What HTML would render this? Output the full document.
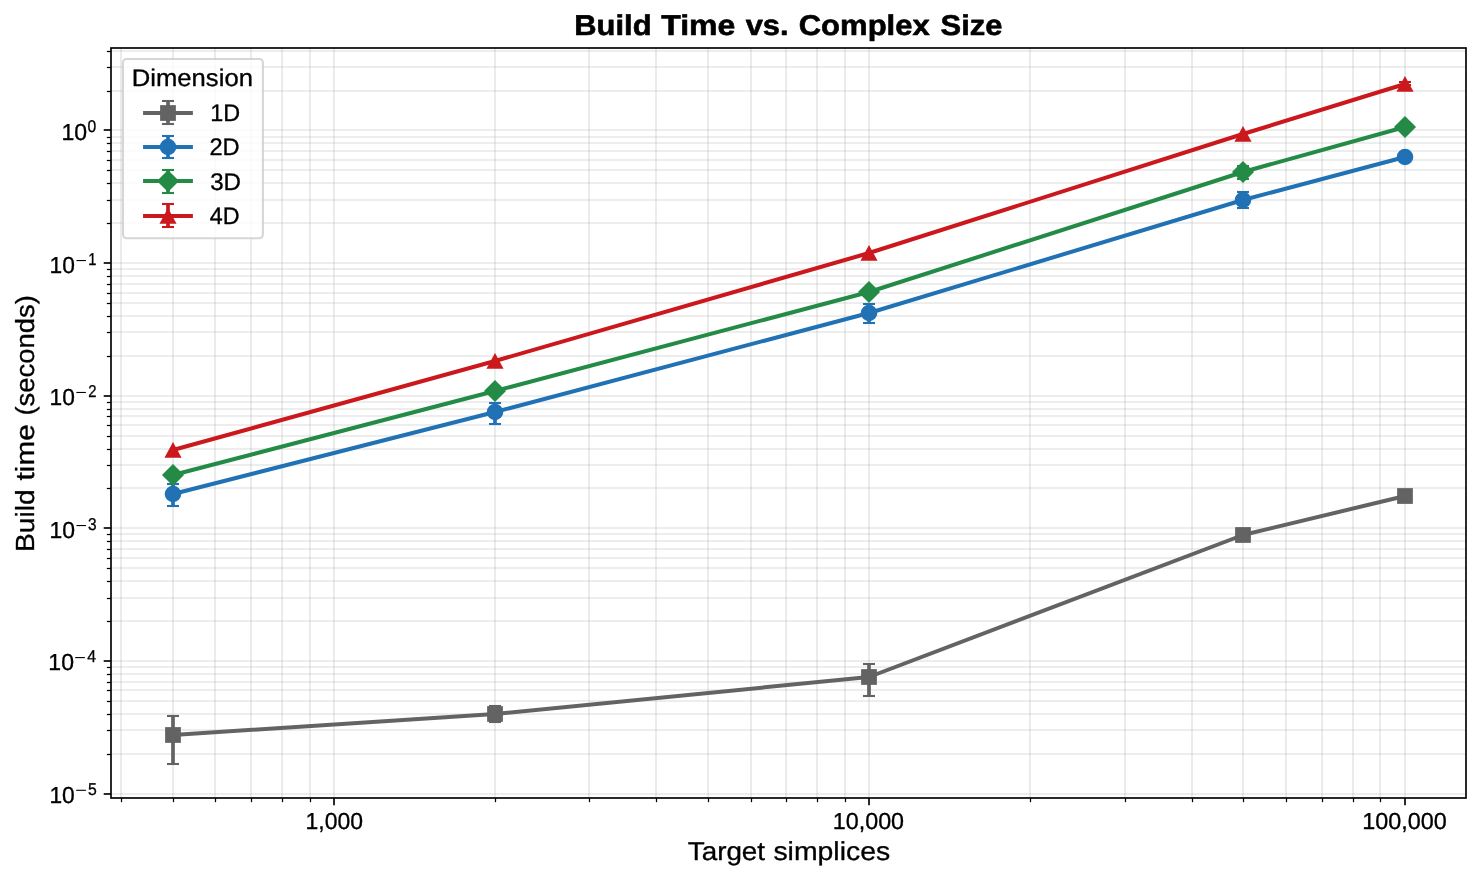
<!DOCTYPE html><html><head><meta charset="utf-8"><style>html,body{margin:0;padding:0;background:#fff;}svg{display:block;will-change:transform;}text{font-family:"Liberation Sans",sans-serif;text-rendering:geometricPrecision;}</style></head><body>
<svg width="1481" height="880" viewBox="0 0 1481 880">
<rect x="0" y="0" width="1481" height="880" fill="#fff"/>
<defs><clipPath id="ax"><rect x="111.0" y="48.0" width="1355.0" height="750.0"/></clipPath></defs>
<g clip-path="url(#ax)" stroke="#b0b0b0" stroke-opacity="0.3" stroke-width="1.67" fill="none">
<line x1="121" y1="48.0" x2="121" y2="798.0"/>
<line x1="173" y1="48.0" x2="173" y2="798.0"/>
<line x1="215" y1="48.0" x2="215" y2="798.0"/>
<line x1="251" y1="48.0" x2="251" y2="798.0"/>
<line x1="282" y1="48.0" x2="282" y2="798.0"/>
<line x1="310" y1="48.0" x2="310" y2="798.0"/>
<line x1="334" y1="48.0" x2="334" y2="798.0"/>
<line x1="495" y1="48.0" x2="495" y2="798.0"/>
<line x1="589" y1="48.0" x2="589" y2="798.0"/>
<line x1="656" y1="48.0" x2="656" y2="798.0"/>
<line x1="708" y1="48.0" x2="708" y2="798.0"/>
<line x1="751" y1="48.0" x2="751" y2="798.0"/>
<line x1="786" y1="48.0" x2="786" y2="798.0"/>
<line x1="817" y1="48.0" x2="817" y2="798.0"/>
<line x1="845" y1="48.0" x2="845" y2="798.0"/>
<line x1="869" y1="48.0" x2="869" y2="798.0"/>
<line x1="1030" y1="48.0" x2="1030" y2="798.0"/>
<line x1="1125" y1="48.0" x2="1125" y2="798.0"/>
<line x1="1192" y1="48.0" x2="1192" y2="798.0"/>
<line x1="1243" y1="48.0" x2="1243" y2="798.0"/>
<line x1="1286" y1="48.0" x2="1286" y2="798.0"/>
<line x1="1322" y1="48.0" x2="1322" y2="798.0"/>
<line x1="1353" y1="48.0" x2="1353" y2="798.0"/>
<line x1="1380" y1="48.0" x2="1380" y2="798.0"/>
<line x1="1405" y1="48.0" x2="1405" y2="798.0"/>
<line x1="111.0" y1="794" x2="1466.0" y2="794"/>
<line x1="111.0" y1="754" x2="1466.0" y2="754"/>
<line x1="111.0" y1="730" x2="1466.0" y2="730"/>
<line x1="111.0" y1="714" x2="1466.0" y2="714"/>
<line x1="111.0" y1="701" x2="1466.0" y2="701"/>
<line x1="111.0" y1="690" x2="1466.0" y2="690"/>
<line x1="111.0" y1="682" x2="1466.0" y2="682"/>
<line x1="111.0" y1="674" x2="1466.0" y2="674"/>
<line x1="111.0" y1="667" x2="1466.0" y2="667"/>
<line x1="111.0" y1="661" x2="1466.0" y2="661"/>
<line x1="111.0" y1="621" x2="1466.0" y2="621"/>
<line x1="111.0" y1="598" x2="1466.0" y2="598"/>
<line x1="111.0" y1="581" x2="1466.0" y2="581"/>
<line x1="111.0" y1="568" x2="1466.0" y2="568"/>
<line x1="111.0" y1="558" x2="1466.0" y2="558"/>
<line x1="111.0" y1="549" x2="1466.0" y2="549"/>
<line x1="111.0" y1="541" x2="1466.0" y2="541"/>
<line x1="111.0" y1="534" x2="1466.0" y2="534"/>
<line x1="111.0" y1="528" x2="1466.0" y2="528"/>
<line x1="111.0" y1="488" x2="1466.0" y2="488"/>
<line x1="111.0" y1="465" x2="1466.0" y2="465"/>
<line x1="111.0" y1="449" x2="1466.0" y2="449"/>
<line x1="111.0" y1="436" x2="1466.0" y2="436"/>
<line x1="111.0" y1="425" x2="1466.0" y2="425"/>
<line x1="111.0" y1="416" x2="1466.0" y2="416"/>
<line x1="111.0" y1="409" x2="1466.0" y2="409"/>
<line x1="111.0" y1="402" x2="1466.0" y2="402"/>
<line x1="111.0" y1="396" x2="1466.0" y2="396"/>
<line x1="111.0" y1="356" x2="1466.0" y2="356"/>
<line x1="111.0" y1="332" x2="1466.0" y2="332"/>
<line x1="111.0" y1="316" x2="1466.0" y2="316"/>
<line x1="111.0" y1="303" x2="1466.0" y2="303"/>
<line x1="111.0" y1="293" x2="1466.0" y2="293"/>
<line x1="111.0" y1="284" x2="1466.0" y2="284"/>
<line x1="111.0" y1="276" x2="1466.0" y2="276"/>
<line x1="111.0" y1="269" x2="1466.0" y2="269"/>
<line x1="111.0" y1="263" x2="1466.0" y2="263"/>
<line x1="111.0" y1="223" x2="1466.0" y2="223"/>
<line x1="111.0" y1="200" x2="1466.0" y2="200"/>
<line x1="111.0" y1="183" x2="1466.0" y2="183"/>
<line x1="111.0" y1="170" x2="1466.0" y2="170"/>
<line x1="111.0" y1="160" x2="1466.0" y2="160"/>
<line x1="111.0" y1="151" x2="1466.0" y2="151"/>
<line x1="111.0" y1="143" x2="1466.0" y2="143"/>
<line x1="111.0" y1="137" x2="1466.0" y2="137"/>
<line x1="111.0" y1="130" x2="1466.0" y2="130"/>
<line x1="111.0" y1="91" x2="1466.0" y2="91"/>
<line x1="111.0" y1="67" x2="1466.0" y2="67"/>
<line x1="111.0" y1="51" x2="1466.0" y2="51"/>
</g>
<g clip-path="url(#ax)">
<line x1="173.00" y1="716.00" x2="173.00" y2="764.00" stroke="#636363" stroke-width="3.7"/><line x1="167.00" y1="716.00" x2="179.00" y2="716.00" stroke="#636363" stroke-width="2.08"/><line x1="167.00" y1="764.00" x2="179.00" y2="764.00" stroke="#636363" stroke-width="2.08"/>
<line x1="495.00" y1="706.00" x2="495.00" y2="722.00" stroke="#636363" stroke-width="3.7"/><line x1="489.00" y1="706.00" x2="501.00" y2="706.00" stroke="#636363" stroke-width="2.08"/><line x1="489.00" y1="722.00" x2="501.00" y2="722.00" stroke="#636363" stroke-width="2.08"/>
<line x1="869.00" y1="664.00" x2="869.00" y2="696.00" stroke="#636363" stroke-width="3.7"/><line x1="863.00" y1="664.00" x2="875.00" y2="664.00" stroke="#636363" stroke-width="2.08"/><line x1="863.00" y1="696.00" x2="875.00" y2="696.00" stroke="#636363" stroke-width="2.08"/>
<polyline points="173.00,735.00 495.00,714.00 869.00,677.00 1243.00,535.00 1405.00,496.00" fill="none" stroke="#636363" stroke-width="4.0" stroke-linejoin="round" stroke-linecap="butt"/>
<rect x="166.16" y="728.16" width="13.67" height="13.67" fill="#636363" stroke="#636363" stroke-width="2.08" stroke-linejoin="miter"/>
<rect x="488.17" y="707.16" width="13.67" height="13.67" fill="#636363" stroke="#636363" stroke-width="2.08" stroke-linejoin="miter"/>
<rect x="862.16" y="670.16" width="13.67" height="13.67" fill="#636363" stroke="#636363" stroke-width="2.08" stroke-linejoin="miter"/>
<rect x="1236.16" y="528.16" width="13.67" height="13.67" fill="#636363" stroke="#636363" stroke-width="2.08" stroke-linejoin="miter"/>
<rect x="1398.16" y="489.17" width="13.67" height="13.67" fill="#636363" stroke="#636363" stroke-width="2.08" stroke-linejoin="miter"/>
<line x1="173.00" y1="484.00" x2="173.00" y2="506.00" stroke="#2171b5" stroke-width="3.7"/><line x1="167.00" y1="484.00" x2="179.00" y2="484.00" stroke="#2171b5" stroke-width="2.08"/><line x1="167.00" y1="506.00" x2="179.00" y2="506.00" stroke="#2171b5" stroke-width="2.08"/>
<line x1="495.00" y1="403.00" x2="495.00" y2="424.00" stroke="#2171b5" stroke-width="3.7"/><line x1="489.00" y1="403.00" x2="501.00" y2="403.00" stroke="#2171b5" stroke-width="2.08"/><line x1="489.00" y1="424.00" x2="501.00" y2="424.00" stroke="#2171b5" stroke-width="2.08"/>
<line x1="869.00" y1="304.00" x2="869.00" y2="323.00" stroke="#2171b5" stroke-width="3.7"/><line x1="863.00" y1="304.00" x2="875.00" y2="304.00" stroke="#2171b5" stroke-width="2.08"/><line x1="863.00" y1="323.00" x2="875.00" y2="323.00" stroke="#2171b5" stroke-width="2.08"/>
<line x1="1243.00" y1="192.00" x2="1243.00" y2="208.00" stroke="#2171b5" stroke-width="3.7"/><line x1="1237.00" y1="192.00" x2="1249.00" y2="192.00" stroke="#2171b5" stroke-width="2.08"/><line x1="1237.00" y1="208.00" x2="1249.00" y2="208.00" stroke="#2171b5" stroke-width="2.08"/>
<polyline points="173.00,494.00 495.00,412.00 869.00,313.00 1243.00,200.00 1405.00,157.00" fill="none" stroke="#2171b5" stroke-width="4.0" stroke-linejoin="round" stroke-linecap="butt"/>
<circle cx="173.00" cy="494.00" r="7.25" fill="#2171b5" stroke="#2171b5" stroke-width="2.08"/>
<circle cx="495.00" cy="412.00" r="7.25" fill="#2171b5" stroke="#2171b5" stroke-width="2.08"/>
<circle cx="869.00" cy="313.00" r="7.25" fill="#2171b5" stroke="#2171b5" stroke-width="2.08"/>
<circle cx="1243.00" cy="200.00" r="7.25" fill="#2171b5" stroke="#2171b5" stroke-width="2.08"/>
<circle cx="1405.00" cy="157.00" r="7.25" fill="#2171b5" stroke="#2171b5" stroke-width="2.08"/>
<line x1="1243.00" y1="166.00" x2="1243.00" y2="179.00" stroke="#238b45" stroke-width="3.7"/><line x1="1237.00" y1="166.00" x2="1249.00" y2="166.00" stroke="#238b45" stroke-width="2.08"/><line x1="1237.00" y1="179.00" x2="1249.00" y2="179.00" stroke="#238b45" stroke-width="2.08"/>
<polyline points="173.00,475.00 495.00,391.00 869.00,292.00 1243.00,172.00 1405.00,127.00" fill="none" stroke="#238b45" stroke-width="4.0" stroke-linejoin="round" stroke-linecap="butt"/>
<path d="M173.00,465.43 L182.57,475.00 L173.00,484.57 L163.43,475.00 Z" fill="#238b45" stroke="#238b45" stroke-width="2.08" stroke-linejoin="miter"/>
<path d="M495.00,381.43 L504.57,391.00 L495.00,400.57 L485.43,391.00 Z" fill="#238b45" stroke="#238b45" stroke-width="2.08" stroke-linejoin="miter"/>
<path d="M869.00,282.43 L878.57,292.00 L869.00,301.57 L859.43,292.00 Z" fill="#238b45" stroke="#238b45" stroke-width="2.08" stroke-linejoin="miter"/>
<path d="M1243.00,162.43 L1252.57,172.00 L1243.00,181.57 L1233.43,172.00 Z" fill="#238b45" stroke="#238b45" stroke-width="2.08" stroke-linejoin="miter"/>
<path d="M1405.00,117.43 L1414.57,127.00 L1405.00,136.57 L1395.43,127.00 Z" fill="#238b45" stroke="#238b45" stroke-width="2.08" stroke-linejoin="miter"/>
<line x1="1405.00" y1="82.00" x2="1405.00" y2="85.00" stroke="#cb181d" stroke-width="3.7"/><line x1="1399.00" y1="82.00" x2="1411.00" y2="82.00" stroke="#cb181d" stroke-width="2.08"/><line x1="1399.00" y1="85.00" x2="1411.00" y2="85.00" stroke="#cb181d" stroke-width="2.08"/>
<polyline points="173.00,450.00 495.00,361.00 869.00,253.00 1243.00,134.00 1405.00,84.00" fill="none" stroke="#cb181d" stroke-width="4.0" stroke-linejoin="round" stroke-linecap="butt"/>
<path d="M173.00,441.90 L181.55,457.80 L164.45,457.80 Z" fill="#cb181d"/>
<path d="M495.00,352.90 L503.55,368.80 L486.45,368.80 Z" fill="#cb181d"/>
<path d="M869.00,244.90 L877.55,260.80 L860.45,260.80 Z" fill="#cb181d"/>
<path d="M1243.00,125.90 L1251.55,141.80 L1234.45,141.80 Z" fill="#cb181d"/>
<path d="M1405.00,75.90 L1413.55,91.80 L1396.45,91.80 Z" fill="#cb181d"/>
</g>
<rect x="111.0" y="48.0" width="1355.0" height="750.0" fill="none" stroke="#000" stroke-width="1.67" stroke-linejoin="miter"/>
<line x1="121.5" y1="798.0" x2="121.5" y2="802.17" stroke="#000" stroke-width="1.25"/><line x1="173.5" y1="798.0" x2="173.5" y2="802.17" stroke="#000" stroke-width="1.25"/><line x1="215.5" y1="798.0" x2="215.5" y2="802.17" stroke="#000" stroke-width="1.25"/><line x1="251.5" y1="798.0" x2="251.5" y2="802.17" stroke="#000" stroke-width="1.25"/><line x1="282.5" y1="798.0" x2="282.5" y2="802.17" stroke="#000" stroke-width="1.25"/><line x1="310.5" y1="798.0" x2="310.5" y2="802.17" stroke="#000" stroke-width="1.25"/><line x1="334" y1="798.0" x2="334" y2="805.29" stroke="#000" stroke-width="1.67"/><line x1="495.5" y1="798.0" x2="495.5" y2="802.17" stroke="#000" stroke-width="1.25"/><line x1="589.5" y1="798.0" x2="589.5" y2="802.17" stroke="#000" stroke-width="1.25"/><line x1="656.5" y1="798.0" x2="656.5" y2="802.17" stroke="#000" stroke-width="1.25"/><line x1="708.5" y1="798.0" x2="708.5" y2="802.17" stroke="#000" stroke-width="1.25"/><line x1="751.5" y1="798.0" x2="751.5" y2="802.17" stroke="#000" stroke-width="1.25"/><line x1="786.5" y1="798.0" x2="786.5" y2="802.17" stroke="#000" stroke-width="1.25"/><line x1="817.5" y1="798.0" x2="817.5" y2="802.17" stroke="#000" stroke-width="1.25"/><line x1="845.5" y1="798.0" x2="845.5" y2="802.17" stroke="#000" stroke-width="1.25"/><line x1="869" y1="798.0" x2="869" y2="805.29" stroke="#000" stroke-width="1.67"/><line x1="1030.5" y1="798.0" x2="1030.5" y2="802.17" stroke="#000" stroke-width="1.25"/><line x1="1125.5" y1="798.0" x2="1125.5" y2="802.17" stroke="#000" stroke-width="1.25"/><line x1="1192.5" y1="798.0" x2="1192.5" y2="802.17" stroke="#000" stroke-width="1.25"/><line x1="1243.5" y1="798.0" x2="1243.5" y2="802.17" stroke="#000" stroke-width="1.25"/><line x1="1286.5" y1="798.0" x2="1286.5" y2="802.17" stroke="#000" stroke-width="1.25"/><line x1="1322.5" y1="798.0" x2="1322.5" y2="802.17" stroke="#000" stroke-width="1.25"/><line x1="1353.5" y1="798.0" x2="1353.5" y2="802.17" stroke="#000" stroke-width="1.25"/><line x1="1380.5" y1="798.0" x2="1380.5" y2="802.17" stroke="#000" stroke-width="1.25"/><line x1="1405" y1="798.0" x2="1405" y2="805.29" stroke="#000" stroke-width="1.67"/><line x1="111.0" y1="794" x2="103.71" y2="794" stroke="#000" stroke-width="1.67"/><line x1="111.0" y1="754.5" x2="106.83" y2="754.5" stroke="#000" stroke-width="1.25"/><line x1="111.0" y1="730.5" x2="106.83" y2="730.5" stroke="#000" stroke-width="1.25"/><line x1="111.0" y1="714.5" x2="106.83" y2="714.5" stroke="#000" stroke-width="1.25"/><line x1="111.0" y1="701.5" x2="106.83" y2="701.5" stroke="#000" stroke-width="1.25"/><line x1="111.0" y1="690.5" x2="106.83" y2="690.5" stroke="#000" stroke-width="1.25"/><line x1="111.0" y1="682.5" x2="106.83" y2="682.5" stroke="#000" stroke-width="1.25"/><line x1="111.0" y1="674.5" x2="106.83" y2="674.5" stroke="#000" stroke-width="1.25"/><line x1="111.0" y1="667.5" x2="106.83" y2="667.5" stroke="#000" stroke-width="1.25"/><line x1="111.0" y1="661" x2="103.71" y2="661" stroke="#000" stroke-width="1.67"/><line x1="111.0" y1="621.5" x2="106.83" y2="621.5" stroke="#000" stroke-width="1.25"/><line x1="111.0" y1="598.5" x2="106.83" y2="598.5" stroke="#000" stroke-width="1.25"/><line x1="111.0" y1="581.5" x2="106.83" y2="581.5" stroke="#000" stroke-width="1.25"/><line x1="111.0" y1="568.5" x2="106.83" y2="568.5" stroke="#000" stroke-width="1.25"/><line x1="111.0" y1="558.5" x2="106.83" y2="558.5" stroke="#000" stroke-width="1.25"/><line x1="111.0" y1="549.5" x2="106.83" y2="549.5" stroke="#000" stroke-width="1.25"/><line x1="111.0" y1="541.5" x2="106.83" y2="541.5" stroke="#000" stroke-width="1.25"/><line x1="111.0" y1="534.5" x2="106.83" y2="534.5" stroke="#000" stroke-width="1.25"/><line x1="111.0" y1="528" x2="103.71" y2="528" stroke="#000" stroke-width="1.67"/><line x1="111.0" y1="488.5" x2="106.83" y2="488.5" stroke="#000" stroke-width="1.25"/><line x1="111.0" y1="465.5" x2="106.83" y2="465.5" stroke="#000" stroke-width="1.25"/><line x1="111.0" y1="449.5" x2="106.83" y2="449.5" stroke="#000" stroke-width="1.25"/><line x1="111.0" y1="436.5" x2="106.83" y2="436.5" stroke="#000" stroke-width="1.25"/><line x1="111.0" y1="425.5" x2="106.83" y2="425.5" stroke="#000" stroke-width="1.25"/><line x1="111.0" y1="416.5" x2="106.83" y2="416.5" stroke="#000" stroke-width="1.25"/><line x1="111.0" y1="409.5" x2="106.83" y2="409.5" stroke="#000" stroke-width="1.25"/><line x1="111.0" y1="402.5" x2="106.83" y2="402.5" stroke="#000" stroke-width="1.25"/><line x1="111.0" y1="396" x2="103.71" y2="396" stroke="#000" stroke-width="1.67"/><line x1="111.0" y1="356.5" x2="106.83" y2="356.5" stroke="#000" stroke-width="1.25"/><line x1="111.0" y1="332.5" x2="106.83" y2="332.5" stroke="#000" stroke-width="1.25"/><line x1="111.0" y1="316.5" x2="106.83" y2="316.5" stroke="#000" stroke-width="1.25"/><line x1="111.0" y1="303.5" x2="106.83" y2="303.5" stroke="#000" stroke-width="1.25"/><line x1="111.0" y1="293.5" x2="106.83" y2="293.5" stroke="#000" stroke-width="1.25"/><line x1="111.0" y1="284.5" x2="106.83" y2="284.5" stroke="#000" stroke-width="1.25"/><line x1="111.0" y1="276.5" x2="106.83" y2="276.5" stroke="#000" stroke-width="1.25"/><line x1="111.0" y1="269.5" x2="106.83" y2="269.5" stroke="#000" stroke-width="1.25"/><line x1="111.0" y1="263" x2="103.71" y2="263" stroke="#000" stroke-width="1.67"/><line x1="111.0" y1="223.5" x2="106.83" y2="223.5" stroke="#000" stroke-width="1.25"/><line x1="111.0" y1="200.5" x2="106.83" y2="200.5" stroke="#000" stroke-width="1.25"/><line x1="111.0" y1="183.5" x2="106.83" y2="183.5" stroke="#000" stroke-width="1.25"/><line x1="111.0" y1="170.5" x2="106.83" y2="170.5" stroke="#000" stroke-width="1.25"/><line x1="111.0" y1="160.5" x2="106.83" y2="160.5" stroke="#000" stroke-width="1.25"/><line x1="111.0" y1="151.5" x2="106.83" y2="151.5" stroke="#000" stroke-width="1.25"/><line x1="111.0" y1="143.5" x2="106.83" y2="143.5" stroke="#000" stroke-width="1.25"/><line x1="111.0" y1="137.5" x2="106.83" y2="137.5" stroke="#000" stroke-width="1.25"/><line x1="111.0" y1="130" x2="103.71" y2="130" stroke="#000" stroke-width="1.67"/><line x1="111.0" y1="91.5" x2="106.83" y2="91.5" stroke="#000" stroke-width="1.25"/><line x1="111.0" y1="67.5" x2="106.83" y2="67.5" stroke="#000" stroke-width="1.25"/><line x1="111.0" y1="51.5" x2="106.83" y2="51.5" stroke="#000" stroke-width="1.25"/>
<rect x="123.0" y="59.0" width="139.90" height="179.20" rx="3.6" ry="3.6" fill="#fff" fill-opacity="0.8" stroke="#cccccc" stroke-opacity="0.8" stroke-width="2.08"/>
<line x1="168.00" y1="101.00" x2="168.00" y2="124.00" stroke="#636363" stroke-width="3.7"/><line x1="162.00" y1="101.00" x2="174.00" y2="101.00" stroke="#636363" stroke-width="2.08"/><line x1="162.00" y1="124.00" x2="174.00" y2="124.00" stroke="#636363" stroke-width="2.08"/>
<line x1="143.06" y1="113.0" x2="192.9" y2="113.0" stroke="#636363" stroke-width="4.0"/>
<rect x="161.16" y="106.17" width="13.67" height="13.67" fill="#636363" stroke="#636363" stroke-width="2.08" stroke-linejoin="miter"/>
<line x1="168.00" y1="136.00" x2="168.00" y2="158.00" stroke="#2171b5" stroke-width="3.7"/><line x1="162.00" y1="136.00" x2="174.00" y2="136.00" stroke="#2171b5" stroke-width="2.08"/><line x1="162.00" y1="158.00" x2="174.00" y2="158.00" stroke="#2171b5" stroke-width="2.08"/>
<line x1="143.06" y1="147.0" x2="192.9" y2="147.0" stroke="#2171b5" stroke-width="4.0"/>
<circle cx="168.00" cy="147.00" r="7.25" fill="#2171b5" stroke="#2171b5" stroke-width="2.08"/>
<line x1="168.00" y1="170.00" x2="168.00" y2="193.00" stroke="#238b45" stroke-width="3.7"/><line x1="162.00" y1="170.00" x2="174.00" y2="170.00" stroke="#238b45" stroke-width="2.08"/><line x1="162.00" y1="193.00" x2="174.00" y2="193.00" stroke="#238b45" stroke-width="2.08"/>
<line x1="143.06" y1="181.0" x2="192.9" y2="181.0" stroke="#238b45" stroke-width="4.0"/>
<path d="M168.00,171.43 L177.57,181.00 L168.00,190.57 L158.43,181.00 Z" fill="#238b45" stroke="#238b45" stroke-width="2.08" stroke-linejoin="miter"/>
<line x1="168.00" y1="204.00" x2="168.00" y2="227.00" stroke="#cb181d" stroke-width="3.7"/><line x1="162.00" y1="204.00" x2="174.00" y2="204.00" stroke="#cb181d" stroke-width="2.08"/><line x1="162.00" y1="227.00" x2="174.00" y2="227.00" stroke="#cb181d" stroke-width="2.08"/>
<line x1="143.06" y1="216.0" x2="192.9" y2="216.0" stroke="#cb181d" stroke-width="4.0"/>
<path d="M168.00,207.90 L176.55,223.80 L159.45,223.80 Z" fill="#cb181d"/>
<text transform="matrix(1.08002,0,0,1,574.312,0)" x="0" y="34.70" font-size="28.6" font-weight="bold" stroke="#000" stroke-width="0.6" stroke-linejoin="round" fill="#000">Build</text>
<text transform="matrix(1.11927,0,0,1,661.244,0)" x="0" y="34.70" font-size="28.6" font-weight="bold" stroke="#000" stroke-width="0.6" stroke-linejoin="round" fill="#000">Time</text>
<text transform="matrix(1.07688,0,0,1,745.647,0)" x="0" y="34.70" font-size="28.6" font-weight="bold" stroke="#000" stroke-width="0.6" stroke-linejoin="round" fill="#000">vs.</text>
<text transform="matrix(1.08495,0,0,1,798.688,0)" x="0" y="34.70" font-size="28.6" font-weight="bold" stroke="#000" stroke-width="0.6" stroke-linejoin="round" fill="#000">Complex</text>
<text transform="matrix(1.08154,0,0,1,940.510,0)" x="0" y="34.70" font-size="28.6" font-weight="bold" stroke="#000" stroke-width="0.6" stroke-linejoin="round" fill="#000">Size</text>
<text transform="matrix(1.07454,0,0,1,687.748,0)" x="0" y="859.70" font-size="25.9" stroke="#000" stroke-width="0.32" stroke-linejoin="round" fill="#000">Target</text>
<text transform="matrix(1.09707,0,0,1,773.398,0)" x="0" y="859.70" font-size="25.9" stroke="#000" stroke-width="0.32" stroke-linejoin="round" fill="#000">simplices</text>
<text transform="matrix(0,-1.07375,1,0,34.1,552.011)" x="0" y="0" font-size="26.2" stroke="#000" stroke-width="0.32" stroke-linejoin="round" fill="#000">Build</text>
<text transform="matrix(0,-1.13610,1,0,34.1,480.422)" x="0" y="0" font-size="26.2" stroke="#000" stroke-width="0.32" stroke-linejoin="round" fill="#000">time</text>
<text transform="matrix(0,-1.04735,1,0,34.1,415.608)" x="0" y="0" font-size="26.2" stroke="#000" stroke-width="0.32" stroke-linejoin="round" fill="#000">(seconds)</text>
<text transform="matrix(0.98966,0,0,1,305.489,0)" x="0" y="828.60" font-size="23.2" stroke="#000" stroke-width="0.32" stroke-linejoin="round" fill="#000">1,000</text>
<text transform="matrix(1.00464,0,0,1,832.802,0)" x="0" y="828.60" font-size="23.2" stroke="#000" stroke-width="0.32" stroke-linejoin="round" fill="#000">10,000</text>
<text transform="matrix(1.00816,0,0,1,1362.150,0)" x="0" y="828.60" font-size="23.2" stroke="#000" stroke-width="0.32" stroke-linejoin="round" fill="#000">100,000</text>
<text transform="matrix(1.06340,0,0,1,131.837,0)" x="0" y="85.70" font-size="24.1" stroke="#000" stroke-width="0.32" stroke-linejoin="round" fill="#000">Dimension</text>
<text transform="matrix(0.96979,0,0,1,210.161,0)" x="0" y="120.80" font-size="24.1" stroke="#000" stroke-width="0.32" stroke-linejoin="round" fill="#000">1D</text>
<text transform="matrix(0.98124,0,0,1,209.416,0)" x="0" y="155.00" font-size="24.1" stroke="#000" stroke-width="0.32" stroke-linejoin="round" fill="#000">2D</text>
<text transform="matrix(1.00143,0,0,1,210.189,0)" x="0" y="189.66" font-size="24.1" stroke="#000" stroke-width="0.32" stroke-linejoin="round" fill="#000">3D</text>
<text transform="matrix(0.96730,0,0,1,209.708,0)" x="0" y="223.75" font-size="24.1" stroke="#000" stroke-width="0.32" stroke-linejoin="round" fill="#000">4D</text>
<text transform="matrix(0.99552,0,0,1,61.484,0)" x="0" y="139.70" font-size="23.2" stroke="#000" stroke-width="0.32" stroke-linejoin="round" fill="#000">10</text>
<text transform="matrix(0.91532,0,0,1,87.392,0)" x="0" y="131.75" font-size="17.1" stroke="#000" stroke-width="0.32" stroke-linejoin="round" fill="#000">0</text>
<text transform="matrix(0.98126,0,0,1,49.502,0)" x="0" y="272.95" font-size="23.2" stroke="#000" stroke-width="0.32" stroke-linejoin="round" fill="#000">10</text>
<text transform="matrix(0.86375,0,0,1,88.285,0)" x="0" y="265.00" font-size="17.1" stroke="#000" stroke-width="0.32" stroke-linejoin="round" fill="#000">1</text>
<text transform="matrix(0.98056,0,0,1,49.530,0)" x="0" y="404.87" font-size="23.2" stroke="#000" stroke-width="0.32" stroke-linejoin="round" fill="#000">10</text>
<text transform="matrix(0.86653,0,0,1,88.231,0)" x="0" y="396.92" font-size="17.1" stroke="#000" stroke-width="0.32" stroke-linejoin="round" fill="#000">2</text>
<text transform="matrix(0.99017,0,0,1,49.409,0)" x="0" y="537.95" font-size="23.2" stroke="#000" stroke-width="0.32" stroke-linejoin="round" fill="#000">10</text>
<text transform="matrix(0.90204,0,0,1,88.098,0)" x="0" y="530.00" font-size="17.1" stroke="#000" stroke-width="0.32" stroke-linejoin="round" fill="#000">3</text>
<text transform="matrix(0.99274,0,0,1,48.345,0)" x="0" y="670.00" font-size="23.2" stroke="#000" stroke-width="0.32" stroke-linejoin="round" fill="#000">10</text>
<text transform="matrix(0.92727,0,0,1,87.260,0)" x="0" y="662.05" font-size="17.1" stroke="#000" stroke-width="0.32" stroke-linejoin="round" fill="#000">4</text>
<text transform="matrix(0.98226,0,0,1,49.389,0)" x="0" y="802.70" font-size="23.2" stroke="#000" stroke-width="0.32" stroke-linejoin="round" fill="#000">10</text>
<text transform="matrix(0.92391,0,0,1,88.015,0)" x="0" y="794.75" font-size="17.1" stroke="#000" stroke-width="0.32" stroke-linejoin="round" fill="#000">5</text>
<rect x="76.50" y="260.00" width="9.40" height="1.1" fill="#000"/>
<rect x="76.40" y="391.92" width="9.45" height="1.1" fill="#000"/>
<rect x="76.50" y="525.00" width="9.40" height="1.1" fill="#000"/>
<rect x="75.20" y="657.05" width="9.70" height="1.1" fill="#000"/>
<rect x="76.20" y="789.75" width="9.70" height="1.1" fill="#000"/>
</svg></body></html>
